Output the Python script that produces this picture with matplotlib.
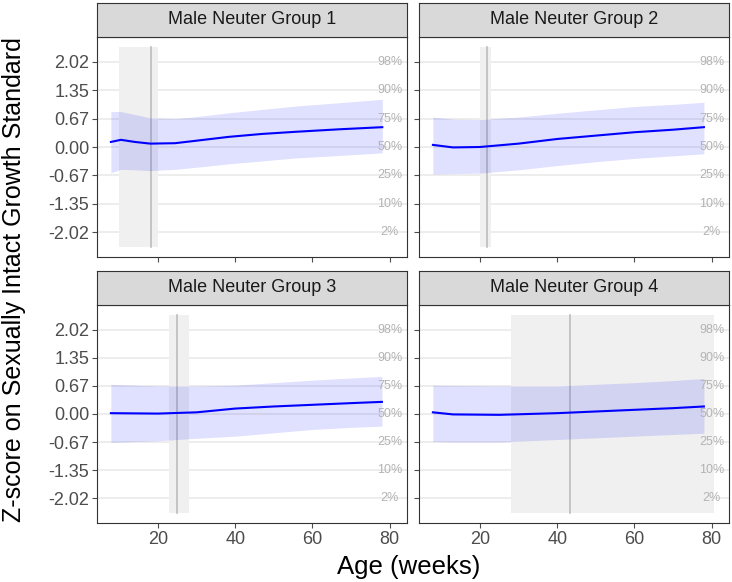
"""
Z-score growth curves for male neuter groups (2x2 facets)
"""
import matplotlib.pyplot as plt
import numpy as np

plt.rcParams['font.family'] = ['Liberation Sans', 'DejaVu Sans']

# percentile reference lines
z_ticks = [-2.02, -1.35, -0.67, 0.00, 0.67, 1.35, 2.02]
z_tick_labels = ['-2.02', '-1.35', '-0.67', '0.00', '0.67', '1.35', '2.02']
pct_labels = ['2%', '10%', '25%', '50%', '75%', '90%', '98%']
x_ticks = [20, 40, 60, 80]

group_names = ['Male Neuter Group 1', 'Male Neuter Group 2',
               'Male Neuter Group 3', 'Male Neuter Group 4']

# Group 1
age_g1 = [7.8, 10.4, 14, 18, 24.4, 30, 38.3, 47, 55.6, 67, 78.1]
fit_g1 = [0.12, 0.17, 0.12, 0.08, 0.09, 0.15, 0.24, 0.31, 0.36, 0.42, 0.47]
upr_g1 = [0.84, 0.84, 0.77, 0.69, 0.67, 0.72, 0.81, 0.89, 0.97, 1.05, 1.13]
lwr_g1 = [-0.61, -0.53, -0.54, -0.56, -0.53, -0.48, -0.40, -0.33, -0.26, -0.20, -0.14]

# Group 2
age_g2 = [7.8, 13, 20, 30, 40, 50, 60, 70, 78]
fit_g2 = [0.05, -0.01, 0.00, 0.08, 0.19, 0.27, 0.35, 0.41, 0.47]
upr_g2 = [0.71, 0.66, 0.65, 0.71, 0.80, 0.88, 0.96, 1.01, 1.06]
lwr_g2 = [-0.64, -0.63, -0.62, -0.54, -0.44, -0.35, -0.27, -0.21, -0.16]

# Group 3
age_g3 = [7.8, 20, 30, 40, 50, 60, 70, 78]
fit_g3 = [0.02, 0.01, 0.04, 0.13, 0.18, 0.22, 0.26, 0.29]
upr_g3 = [0.71, 0.67, 0.67, 0.69, 0.75, 0.81, 0.86, 0.90]
lwr_g3 = [-0.68, -0.64, -0.58, -0.53, -0.45, -0.37, -0.32, -0.29]

# Group 4
age_g4 = [7.8, 13, 25, 40, 50, 60, 70, 78]
fit_g4 = [0.04, -0.01, -0.02, 0.02, 0.06, 0.10, 0.14, 0.18]
upr_g4 = [0.69, 0.68, 0.67, 0.67, 0.71, 0.75, 0.80, 0.85]
lwr_g4 = [-0.66, -0.67, -0.67, -0.61, -0.57, -0.53, -0.49, -0.46]

# neuter age (line) and its interval (shaded band)
neuter_age = [18.2, 21.7, 24.9, 43.3]
neuter_lo = [9.9, 20.1, 22.9, 28.1]
neuter_hi = [20.0, 22.8, 28.0, 80.6]

groups = [
    (age_g1, fit_g1, upr_g1, lwr_g1),
    (age_g2, fit_g2, upr_g2, lwr_g2),
    (age_g3, fit_g3, upr_g3, lwr_g3),
    (age_g4, fit_g4, upr_g4, lwr_g4),
]

W, H = 732, 582
fig = plt.figure(figsize=(W / 100, H / 100), dpi=100)

# panel boxes in pixels: (left, top, right, bottom)
col_x = [(97, 407), (419, 729)]
row_y = [(37, 257), (305, 523)]
strip_h = 34


def px_box(l, t, r, b):
    return [l / W, 1 - b / H, (r - l) / W, (b - t) / H]


for i, (age, fit, upr, lwr) in enumerate(groups):
    row, col = divmod(i, 2)
    l, r = col_x[col]
    t, b = row_y[row]
    ax = fig.add_axes(px_box(l, t, r, b))

    ax.axvspan(neuter_lo[i], neuter_hi[i], ymin=0.045, ymax=0.955,
               color='#f0f0f0', zorder=1, lw=0)
    ax.axvline(neuter_age[i], ymin=0.045, ymax=0.955, color='#bdbdbd',
               lw=1.2, zorder=2)

    for z in z_ticks:
        ax.axhline(z, color='#e8e8e8', lw=1.1, zorder=0.5)

    ax.fill_between(age, lwr, upr, color='#0000ff', alpha=0.12, lw=0, zorder=3)
    ax.plot(age, fit, color='#0000ff', lw=1.5, zorder=4)

    for z, p in zip(z_ticks, pct_labels):
        ax.text(80, z, p, ha='center', va='center', fontsize=9,
                color='#b3b3b3', zorder=5)

    ax.set_xlim(4.2, 84.5)
    ax.set_ylim(-2.607, 2.607)
    ax.set_yticks(z_ticks)
    ax.set_xticks(x_ticks)
    if col == 0:
        ax.set_yticklabels(z_tick_labels)
    else:
        ax.set_yticklabels([])
        ax.tick_params(axis='y', length=0)
    if row == 1:
        ax.set_xticklabels([str(v) for v in x_ticks])
    else:
        ax.set_xticklabels([])
        ax.tick_params(axis='x', length=0)
    ax.tick_params(labelsize=13, colors='#4d4d4d', width=0.8, length=3.5,
                   pad=2)
    for s in ax.spines.values():
        s.set_color('#333333')
        s.set_linewidth(0.8)

    # facet strip
    sax = fig.add_axes(px_box(l, t - strip_h, r, t))
    sax.set_facecolor('#d9d9d9')
    sax.set_xticks([])
    sax.set_yticks([])
    for s in sax.spines.values():
        s.set_color('#333333')
        s.set_linewidth(0.8)
    sax.text(0.5, 0.5, group_names[i], ha='center', va='center',
             fontsize=13, color='#1a1a1a', transform=sax.transAxes)

fig.text(409 / W, 1 - 567 / H, 'Age (weeks)', ha='center', va='center',
         fontsize=18.5)
fig.text(14 / W, 1 - 280 / H, 'Z-score on Sexually Intact Growth Standard',
         ha='center', va='center', rotation=90, fontsize=18)

plt.savefig('out.png', dpi=100)
plt.close()
